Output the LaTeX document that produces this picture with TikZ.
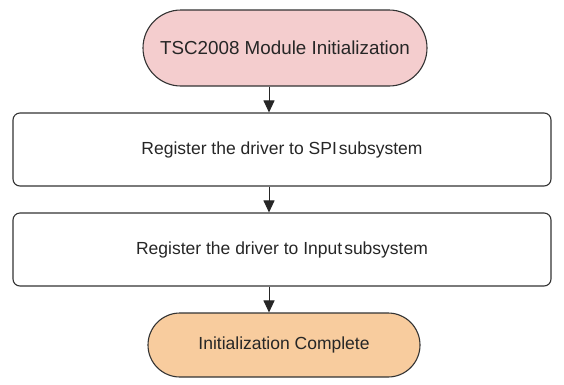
\documentclass[tikz,border=0pt]{standalone}
\usepackage{fontspec}
\setmainfont{Liberation Sans}
\usepackage{tikz}
\usetikzlibrary{arrows.meta}

\definecolor{startpink}{HTML}{F4CDCE}
\definecolor{endorange}{HTML}{F8CC9E}
\definecolor{edgegray}{HTML}{333333}

\tikzset{
  terminal/.style={draw=edgegray, line width=1.1pt, rounded corners=38pt,
    minimum width=284pt, minimum height=76pt, inner sep=0pt,
    font=\fontsize{18.8}{22}\selectfont, text=black!85},
  stepbox/.style={draw=edgegray, line width=1.1pt, rounded corners=7pt,
    minimum width=538pt, minimum height=73pt, inner sep=0pt,
    font=\fontsize{17.5}{21}\selectfont, text=black!85},
  flow/.style={draw=black!85, line width=1pt, -{Triangle[length=12pt, width=11pt]}}
}

\begin{document}
\begin{tikzpicture}[x=1pt, y=-1pt]
    \useasboundingbox (0,0) rectangle (564,384);
    % start and end
    \node[terminal, fill=startpink] (init) at (285,48){TSC2008 Module Initialization};
    \node[stepbox] (spi) at (282,149.5){Register the driver to SPI\hspace{2pt}subsystem};
    \node[stepbox] (input) at (282,249.5){Register the driver to Input\hspace{2pt}subsystem};
    \node[terminal, fill=endorange, minimum width=272pt, minimum height=64pt,
      rounded corners=32pt, font=\fontsize{17.5}{21}\selectfont] (done) at (284,345){Initialization Complete};
    % arrows run down one axis
    \coordinate (axis) at (269,0);
    \draw[flow] (init.south -| axis) -- (spi.north -| axis);
    \draw[flow] (spi.south -| axis) -- (input.north -| axis);
    \draw[flow] (input.south -| axis) -- (done.north -| axis);
  \end{tikzpicture}
\end{document}
